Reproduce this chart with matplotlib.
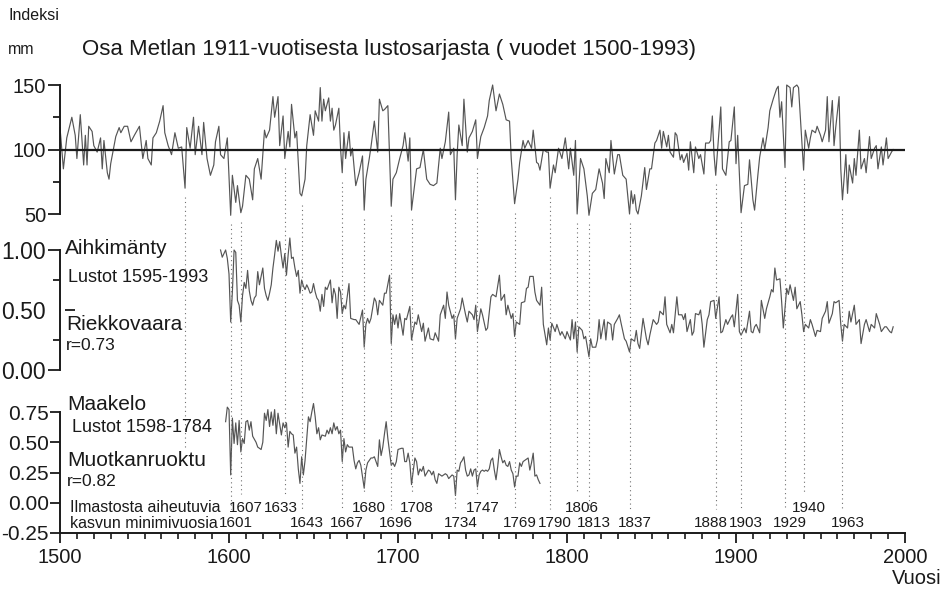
import numpy as np
import matplotlib.pyplot as plt
from matplotlib.lines import Line2D
from matplotlib.transforms import blended_transform_factory

# Metla long chronology, index (mm), 1500-1993
top_years = [1500, 1502, 1504, 1507, 1509, 1510, 1512, 1514, 1515, 1516,
             1517, 1519, 1520, 1522, 1524, 1525, 1526, 1528, 1529, 1530,
             1533, 1535, 1536, 1538, 1540, 1542, 1544, 1547, 1549, 1551,
             1552, 1554, 1555, 1557, 1559, 1561, 1562, 1564, 1566, 1568,
             1570, 1572, 1574, 1575, 1577, 1579, 1580, 1582, 1584, 1585,
             1587, 1589, 1591, 1592, 1594, 1595, 1597, 1599, 1601, 1602,
             1604, 1605, 1607, 1608, 1610, 1612, 1614, 1615, 1617, 1619,
             1621, 1622, 1624, 1626, 1627, 1629, 1630, 1632, 1633, 1635,
             1636, 1637, 1639, 1640, 1642, 1643, 1645, 1646, 1648, 1650,
             1651, 1653, 1654, 1655, 1656, 1657, 1659, 1660, 1661, 1662,
             1663, 1665, 1666, 1667, 1668, 1669, 1671, 1672, 1673, 1675,
             1677, 1679, 1680, 1681, 1683, 1684, 1686, 1688, 1689, 1691,
             1692, 1694, 1696, 1697, 1699, 1701, 1703, 1704, 1706, 1707,
             1708, 1711, 1713, 1715, 1717, 1719, 1721, 1723, 1725, 1726,
             1728, 1730, 1731, 1733, 1734, 1735, 1736, 1738, 1739, 1741,
             1742, 1744, 1746, 1747, 1749, 1751, 1753, 1754, 1756, 1758,
             1760, 1762, 1764, 1766, 1767, 1769, 1771, 1772, 1774, 1775,
             1777, 1779, 1780, 1782, 1783, 1784, 1786, 1788, 1789, 1790,
             1792, 1793, 1795, 1797, 1799, 1801, 1802, 1804, 1805, 1806,
             1808, 1810, 1812, 1813, 1815, 1817, 1819, 1821, 1822, 1823,
             1825, 1826, 1828, 1830, 1831, 1833, 1835, 1837, 1838, 1839,
             1840, 1841, 1842, 1844, 1846, 1847, 1849, 1850, 1852, 1853,
             1855, 1856, 1857, 1859, 1860, 1861, 1863, 1864, 1865, 1867,
             1868, 1869, 1871, 1872, 1873, 1875, 1876, 1878, 1879, 1881,
             1882, 1884, 1885, 1886, 1887, 1888, 1891, 1892, 1894, 1896,
             1897, 1899, 1900, 1901, 1903, 1905, 1907, 1908, 1910, 1911,
             1913, 1914, 1916, 1917, 1919, 1920, 1922, 1924, 1925, 1926,
             1927, 1929, 1930, 1932, 1933, 1934, 1936, 1937, 1938, 1940,
             1941, 1943, 1944, 1945, 1947, 1948, 1950, 1951, 1953, 1954,
             1955, 1957, 1958, 1959, 1961, 1962, 1963, 1965, 1966, 1967,
             1969, 1970, 1971, 1973, 1974, 1976, 1977, 1979, 1980, 1982,
             1983, 1984, 1986, 1987, 1989, 1990, 1992, 1993]
top_index = [117, 85, 109, 125, 111, 93, 127, 88, 111, 88,
             118, 114, 103, 98, 109, 85, 107, 82, 77, 89,
             110, 117, 113, 118, 118, 106, 111, 118, 93, 107,
             93, 88, 109, 113, 122, 134, 113, 103, 96, 113,
             101, 102, 70, 117, 101, 125, 96, 118, 96, 121,
             93, 80, 88, 106, 118, 96, 93, 109, 49, 80,
             59, 72, 51, 56, 80, 77, 61, 85, 93, 77,
             115, 109, 115, 141, 125, 141, 103, 126, 93, 114,
             102, 135, 109, 114, 66, 64, 77, 103, 127, 111,
             130, 122, 148, 122, 139, 130, 140, 122, 132, 115,
             119, 132, 101, 82, 113, 93, 114, 95, 101, 72,
             82, 95, 53, 77, 93, 102, 122, 98, 139, 130,
             131, 134, 56, 77, 82, 93, 103, 113, 91, 109,
             53, 85, 86, 100, 77, 73, 72, 74, 101, 93,
             106, 129, 96, 101, 61, 96, 119, 103, 139, 98,
             109, 114, 123, 93, 110, 117, 126, 138, 150, 130,
             143, 135, 123, 122, 93, 58, 77, 90, 107, 101,
             107, 101, 115, 90, 89, 84, 100, 98, 98, 70,
             88, 82, 101, 93, 109, 85, 101, 80, 107, 50,
             93, 85, 64, 49, 66, 69, 85, 74, 62, 93,
             82, 107, 81, 96, 96, 80, 77, 50, 68, 58,
             65, 53, 50, 64, 86, 69, 85, 85, 105, 107,
             115, 101, 114, 102, 111, 98, 94, 113, 111, 92,
             96, 90, 97, 84, 106, 82, 102, 93, 96, 81,
             105, 105, 107, 126, 96, 80, 133, 85, 80, 106,
             107, 133, 89, 111, 51, 72, 73, 92, 61, 53,
             81, 94, 109, 100, 117, 130, 139, 147, 149, 125,
             137, 86, 150, 148, 133, 148, 150, 148, 127, 84,
             115, 101, 109, 115, 113, 118, 111, 106, 115, 141,
             106, 138, 103, 117, 141, 85, 61, 96, 66, 88,
             74, 93, 80, 115, 85, 93, 82, 110, 93, 101,
             103, 85, 102, 88, 109, 93, 98, 100]

# Aihkimänty / Riekkovaara, 1595-1993
mid_years = [1595, 1596, 1597, 1598, 1599, 1600, 1601, 1602, 1603, 1604,
             1605, 1606, 1607, 1608, 1609, 1610, 1611, 1612, 1613, 1614,
             1615, 1616, 1617, 1618, 1619, 1620, 1621, 1622, 1623, 1624,
             1625, 1626, 1627, 1628, 1629, 1630, 1631, 1632, 1633, 1634,
             1635, 1636, 1637, 1638, 1639, 1640, 1641, 1642, 1643, 1644,
             1645, 1646, 1647, 1648, 1649, 1650, 1651, 1652, 1653, 1654,
             1655, 1656, 1657, 1658, 1660, 1661, 1662, 1663, 1664, 1665,
             1666, 1667, 1668, 1669, 1671, 1672, 1674, 1675, 1677, 1679,
             1680, 1681, 1682, 1683, 1684, 1686, 1687, 1688, 1689, 1691,
             1692, 1693, 1695, 1696, 1697, 1698, 1699, 1700, 1701, 1703,
             1704, 1705, 1707, 1708, 1710, 1711, 1712, 1714, 1715, 1716,
             1718, 1719, 1721, 1722, 1724, 1725, 1727, 1728, 1729, 1730,
             1732, 1733, 1734, 1735, 1737, 1738, 1740, 1741, 1742, 1744,
             1745, 1746, 1747, 1749, 1750, 1752, 1753, 1755, 1756, 1758,
             1760, 1761, 1763, 1764, 1765, 1767, 1768, 1769, 1770, 1772,
             1773, 1775, 1776, 1777, 1778, 1780, 1781, 1782, 1784, 1785,
             1786, 1788, 1789, 1790, 1791, 1793, 1794, 1796, 1797, 1799,
             1800, 1802, 1803, 1804, 1805, 1806, 1807, 1809, 1810, 1811,
             1813, 1814, 1815, 1817, 1818, 1819, 1820, 1822, 1823, 1824,
             1826, 1827, 1828, 1830, 1831, 1832, 1834, 1835, 1837, 1838,
             1840, 1841, 1842, 1843, 1845, 1847, 1848, 1849, 1851, 1853,
             1854, 1855, 1857, 1858, 1859, 1861, 1862, 1863, 1865, 1866,
             1868, 1869, 1870, 1871, 1873, 1874, 1875, 1876, 1878, 1879,
             1880, 1881, 1883, 1884, 1885, 1887, 1888, 1890, 1891, 1892,
             1894, 1895, 1897, 1898, 1899, 1901, 1902, 1903, 1905, 1906,
             1908, 1909, 1910, 1911, 1912, 1914, 1915, 1917, 1918, 1920,
             1921, 1922, 1923, 1924, 1926, 1927, 1928, 1930, 1931, 1932,
             1934, 1935, 1936, 1938, 1939, 1940, 1941, 1943, 1944, 1945,
             1947, 1948, 1950, 1951, 1953, 1954, 1955, 1957, 1958, 1959,
             1961, 1962, 1963, 1964, 1966, 1967, 1968, 1970, 1971, 1973,
             1974, 1976, 1977, 1979, 1980, 1982, 1983, 1985, 1986, 1988,
             1989, 1991, 1992, 1993]
mid_vals = [1.00, 0.94, 0.97, 1.00, 0.93, 0.80, 0.40, 0.65, 1.00, 0.98,
            0.58, 0.54, 0.40, 0.62, 0.73, 0.68, 0.83, 0.66, 0.58, 0.54,
            0.60, 0.62, 0.82, 0.71, 0.78, 0.85, 0.68, 0.62, 0.58, 0.64,
            0.71, 0.85, 0.96, 1.08, 0.99, 1.07, 0.95, 0.85, 0.97, 0.79,
            0.96, 1.10, 0.93, 0.94, 0.85, 0.78, 0.83, 0.64, 0.75, 0.70,
            0.67, 0.71, 0.68, 0.64, 0.65, 0.72, 0.65, 0.60, 0.58, 0.49,
            0.63, 0.53, 0.69, 0.67, 0.75, 0.56, 0.68, 0.63, 0.43, 0.69,
            0.65, 0.47, 0.54, 0.51, 0.72, 0.43, 0.42, 0.42, 0.38, 0.50,
            0.19, 0.38, 0.43, 0.39, 0.43, 0.60, 0.57, 0.46, 0.58, 0.54,
            0.64, 0.64, 0.79, 0.22, 0.46, 0.38, 0.46, 0.35, 0.47, 0.29,
            0.43, 0.42, 0.53, 0.25, 0.40, 0.38, 0.46, 0.32, 0.39, 0.24,
            0.35, 0.26, 0.25, 0.31, 0.24, 0.46, 0.54, 0.43, 0.65, 0.54,
            0.43, 0.46, 0.26, 0.43, 0.51, 0.60, 0.46, 0.40, 0.49, 0.46,
            0.42, 0.54, 0.32, 0.51, 0.46, 0.33, 0.35, 0.61, 0.63, 0.61,
            0.79, 0.58, 0.63, 0.46, 0.54, 0.43, 0.47, 0.28, 0.40, 0.38,
            0.56, 0.57, 0.68, 0.69, 0.78, 0.78, 0.65, 0.58, 0.54, 0.69,
            0.38, 0.21, 0.35, 0.25, 0.39, 0.32, 0.38, 0.29, 0.32, 0.26,
            0.32, 0.25, 0.42, 0.26, 0.40, 0.15, 0.36, 0.33, 0.26, 0.28,
            0.11, 0.26, 0.19, 0.19, 0.25, 0.42, 0.26, 0.42, 0.25, 0.40,
            0.38, 0.25, 0.38, 0.43, 0.46, 0.39, 0.26, 0.24, 0.15, 0.26,
            0.24, 0.33, 0.22, 0.18, 0.43, 0.26, 0.21, 0.29, 0.42, 0.38,
            0.40, 0.49, 0.46, 0.61, 0.38, 0.31, 0.38, 0.31, 0.61, 0.46,
            0.46, 0.42, 0.47, 0.32, 0.42, 0.29, 0.32, 0.47, 0.46, 0.50,
            0.38, 0.19, 0.42, 0.46, 0.57, 0.58, 0.43, 0.61, 0.31, 0.32,
            0.42, 0.38, 0.44, 0.46, 0.36, 0.63, 0.32, 0.29, 0.35, 0.31,
            0.49, 0.32, 0.31, 0.36, 0.38, 0.31, 0.58, 0.43, 0.51, 0.61,
            0.67, 0.65, 0.85, 0.75, 0.76, 0.57, 0.35, 0.68, 0.63, 0.71,
            0.58, 0.69, 0.51, 0.57, 0.46, 0.32, 0.38, 0.35, 0.42, 0.38,
            0.28, 0.33, 0.32, 0.43, 0.49, 0.57, 0.39, 0.47, 0.57, 0.56,
            0.58, 0.38, 0.24, 0.38, 0.35, 0.49, 0.40, 0.54, 0.38, 0.42,
            0.22, 0.38, 0.42, 0.32, 0.38, 0.35, 0.47, 0.38, 0.32, 0.36,
            0.36, 0.32, 0.31, 0.36]

# Maakelo / Muotkanruoktu, 1598-1784
low_years = [1598, 1599, 1600, 1601, 1602, 1603, 1604, 1605, 1606, 1607,
             1608, 1609, 1610, 1611, 1612, 1613, 1614, 1616, 1617, 1619,
             1620, 1621, 1622, 1623, 1624, 1625, 1626, 1627, 1628, 1629,
             1631, 1632, 1633, 1634, 1635, 1636, 1637, 1638, 1639, 1640,
             1641, 1642, 1643, 1644, 1645, 1646, 1647, 1648, 1649, 1650,
             1651, 1652, 1653, 1654, 1655, 1657, 1658, 1659, 1660, 1661,
             1662, 1663, 1664, 1665, 1666, 1667, 1668, 1669, 1670, 1671,
             1673, 1674, 1675, 1676, 1677, 1678, 1680, 1681, 1682, 1683,
             1684, 1685, 1686, 1688, 1689, 1690, 1691, 1692, 1693, 1694,
             1696, 1697, 1698, 1699, 1700, 1702, 1703, 1704, 1705, 1706,
             1707, 1708, 1710, 1711, 1712, 1713, 1714, 1715, 1716, 1718,
             1719, 1720, 1721, 1722, 1723, 1724, 1725, 1726, 1728, 1729,
             1730, 1732, 1733, 1734, 1735, 1736, 1737, 1738, 1739, 1740,
             1741, 1742, 1743, 1744, 1745, 1746, 1747, 1748, 1749, 1750,
             1751, 1752, 1753, 1754, 1755, 1756, 1757, 1758, 1759, 1760,
             1761, 1762, 1763, 1764, 1765, 1766, 1767, 1768, 1769, 1770,
             1771, 1772, 1773, 1774, 1775, 1777, 1778, 1779, 1780, 1781,
             1782, 1783, 1784]
low_vals = [0.67, 0.79, 0.77, 0.23, 0.70, 0.49, 0.66, 0.48, 0.68, 0.42,
            0.53, 0.49, 0.67, 0.68, 0.60, 0.67, 0.55, 0.50, 0.46, 0.44,
            0.50, 0.74, 0.68, 0.77, 0.63, 0.75, 0.64, 0.77, 0.57, 0.74,
            0.56, 0.66, 0.62, 0.66, 0.46, 0.59, 0.57, 0.56, 0.41, 0.46,
            0.28, 0.16, 0.38, 0.23, 0.35, 0.53, 0.71, 0.67, 0.75, 0.82,
            0.71, 0.57, 0.62, 0.52, 0.56, 0.55, 0.60, 0.57, 0.62, 0.57,
            0.66, 0.60, 0.63, 0.57, 0.60, 0.34, 0.53, 0.42, 0.48, 0.46,
            0.46, 0.35, 0.28, 0.33, 0.35, 0.31, 0.12, 0.27, 0.33, 0.35,
            0.37, 0.37, 0.38, 0.30, 0.52, 0.39, 0.46, 0.57, 0.67, 0.53,
            0.31, 0.33, 0.30, 0.34, 0.44, 0.45, 0.45, 0.34, 0.34, 0.41,
            0.33, 0.15, 0.37, 0.34, 0.23, 0.28, 0.26, 0.30, 0.22, 0.27,
            0.26, 0.23, 0.26, 0.19, 0.16, 0.24, 0.23, 0.22, 0.24, 0.23,
            0.20, 0.23, 0.22, 0.06, 0.27, 0.26, 0.33, 0.35, 0.38, 0.27,
            0.22, 0.23, 0.28, 0.22, 0.27, 0.28, 0.13, 0.23, 0.26, 0.27,
            0.26, 0.27, 0.26, 0.28, 0.35, 0.37, 0.27, 0.19, 0.30, 0.44,
            0.38, 0.33, 0.35, 0.31, 0.30, 0.34, 0.27, 0.24, 0.13, 0.22,
            0.22, 0.33, 0.30, 0.34, 0.35, 0.37, 0.27, 0.33, 0.41, 0.22,
            0.23, 0.19, 0.16]

# climate-driven growth minima, split into the two label rows
minima_upper = [1607, 1633, 1680, 1708, 1747, 1806, 1940]
minima_lower = [1601, 1643, 1667, 1696, 1734, 1769, 1790, 1813, 1837,
                1888, 1903, 1929, 1963]
unlabelled_minima = [1574]

W, H = 949, 592
INK = '#1a1a1a'
CURVE = '#555555'
plt.rcParams['font.family'] = ['Liberation Sans', 'DejaVu Sans']

fig = plt.figure(figsize=(W / 100, H / 100), dpi=100)


def box(x0, y_top, x1, y_bot):
    # pixel box -> figure fraction rectangle
    return [x0 / W, 1 - y_bot / H, (x1 - x0) / W, (y_bot - y_top) / H]


def fpos(x, y):
    return x / W, 1 - y / H


ax_top = fig.add_axes(box(60, 85, 905, 214))
ax_mid = fig.add_axes(box(60, 250, 905, 370))
ax_low = fig.add_axes(box(60, 412, 905, 533))

for ax in (ax_top, ax_mid, ax_low):
    ax.set_xlim(1500, 2000)
    ax.patch.set_visible(False)
    for side in ('top', 'right'):
        ax.spines[side].set_visible(False)
    ax.spines['left'].set_linewidth(1.4)
    ax.spines['left'].set_color(INK)
    ax.tick_params(axis='y', which='major', direction='out', length=9,
                   width=1.3, color=INK, labelcolor=INK, pad=1)
    ax.tick_params(axis='y', which='minor', direction='out', length=5,
                   width=1.3, color=INK)

for ax in (ax_top, ax_mid):
    ax.spines['bottom'].set_visible(False)
    ax.tick_params(axis='x', which='both', bottom=False, labelbottom=False)

# top panel: index around 100
ax_top.set_ylim(50, 150)
ax_top.set_yticks([50, 100, 150])
ax_top.set_yticks([75, 125], minor=True)
ax_top.tick_params(axis='y', labelsize=14.5)
ax_top.axhline(100, color=INK, lw=1.6, zorder=3)
ax_top.plot(top_years, top_index, color=CURVE, lw=0.85, clip_on=False)

# middle panel
ax_mid.set_ylim(0, 1)
ax_mid.set_yticks([0, 0.5, 1.0])
ax_mid.set_yticklabels(['0.00', '0.50', '1.00'])
ax_mid.set_yticks([0.25, 0.75], minor=True)
ax_mid.tick_params(axis='y', labelsize=16.5)
ax_mid.yaxis.get_major_ticks()[1].tick1line.set_visible(False)
ax_mid.hlines(0.5, 0.006, 0.018, transform=ax_mid.get_yaxis_transform(),
              color=INK, lw=1.3)
ax_mid.plot(mid_years, mid_vals, color=CURVE, lw=0.85, clip_on=False)

# bottom panel with the year axis
ax_low.set_ylim(-0.25, 0.75)
ax_low.set_yticks([-0.25, 0, 0.25, 0.5, 0.75])
ax_low.set_yticklabels(['-0.25', '0.00', '0.25', '0.50', '0.75'])
ax_low.tick_params(axis='y', labelsize=15, length=7)
ax_low.spines['bottom'].set_linewidth(1.4)
ax_low.spines['bottom'].set_color(INK)
ax_low.set_xticks(np.arange(1500, 2001, 100))
ax_low.set_xticks(np.arange(1500, 2001, 10), minor=True)
ax_low.tick_params(axis='x', which='major', direction='out', length=7.5,
                   width=1.3, color=INK, labelcolor=INK, labelsize=14.5, pad=3)
ax_low.tick_params(axis='x', which='minor', direction='out', length=4,
                   width=1.2, color=INK)
ax_low.plot(low_years, low_vals, color=CURVE, lw=0.85, clip_on=False)

# dotted guides from each growth minimum down to its label
to_fig = fig.transFigure.inverted()
guides = ([(y, 494) for y in minima_upper] + [(y, 509) for y in minima_lower]
          + [(y, 448) for y in unlabelled_minima])
for year, end_px in guides:
    v = np.interp(year, top_years, top_index)
    xd, yd = ax_top.transData.transform((year, v))
    xf, yf = to_fig.transform((xd, yd - 9))
    fig.add_artist(Line2D([xf, xf], [yf, 1 - end_px / H],
                          transform=fig.transFigure, color='#707070',
                          lw=0.8, ls=(0, (1, 3))))

# year labels sit a little right of their guide; two are pulled left
label_shift = {1633: -2.5, 1888: -3.0}
year_tr = blended_transform_factory(ax_low.transData, fig.transFigure)
for row_px, years in ((508, minima_upper), (523, minima_lower)):
    for year in years:
        ax_low.text(year + label_shift.get(year, 3.0), 1 - row_px / H, str(year),
                    transform=year_tr, ha='center', va='center',
                    fontsize=11, color=INK)

# headings and series names
fig.text(*fpos(8, 15), 'Indeksi', fontsize=11.5, va='center', color=INK)
fig.text(*fpos(8, 49), 'mm', fontsize=11.5, va='center', color=INK)
fig.text(*fpos(82, 49), 'Osa Metlan 1911-vuotisesta lustosarjasta ( vuodet 1500-1993)',
         fontsize=16, va='center', color=INK)
fig.text(*fpos(942, 578), 'Vuosi', fontsize=14.5, ha='right', va='center', color=INK)

fig.text(*fpos(65, 249), 'Aihkimänty', fontsize=15, va='center', color=INK)
fig.text(*fpos(68, 278), 'Lustot 1595-1993', fontsize=13, va='center', color=INK)
fig.text(*fpos(66, 325), 'Riekkovaara', fontsize=15, va='center', color=INK)
fig.text(*fpos(66, 345), 'r=0.73', fontsize=12.5, va='center', color=INK)
fig.text(*fpos(67, 404), 'Maakelo', fontsize=15, va='center', color=INK)
fig.text(*fpos(72, 428), 'Lustot 1598-1784', fontsize=13, va='center', color=INK)
fig.text(*fpos(67, 461), 'Muotkanruoktu', fontsize=15, va='center', color=INK)
fig.text(*fpos(67, 481), 'r=0.82', fontsize=12.5, va='center', color=INK)
fig.text(*fpos(70, 507), 'Ilmastosta aiheutuvia', fontsize=11.5, va='center', color=INK)
fig.text(*fpos(70, 523), 'kasvun minimivuosia', fontsize=11.5, va='center', color=INK)

fig.savefig('out.png', dpi=100, facecolor='white')
